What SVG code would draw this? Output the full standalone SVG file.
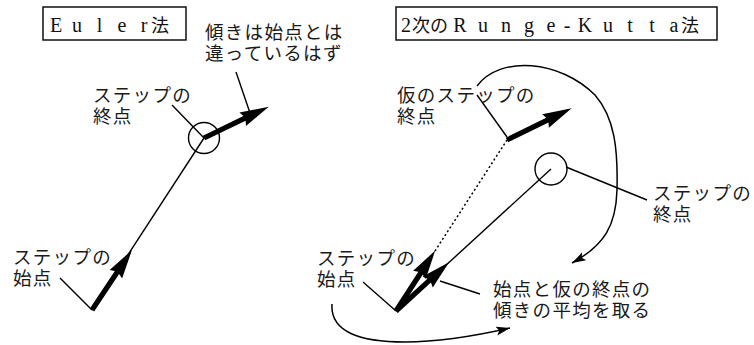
<svg xmlns="http://www.w3.org/2000/svg" width="754" height="345" viewBox="0 0 754 345">
<style>
  .lbl { font-family: "Liberation Sans", "Noto Sans CJK JP", sans-serif; font-size: 18.5px; letter-spacing: 1.3px; fill: #1a1a1a; }
  .ttl { font-family: "Liberation Serif", "Noto Sans CJK JP", serif; font-size: 20px; fill: #111; text-anchor: middle; }
  .ttl .cj { font-family: "Noto Sans CJK JP", sans-serif; font-size: 18px; }
  .box { fill: none; stroke: #111; stroke-width: 1.5; }
  .ln { fill: none; stroke: #000; stroke-width: 1.4; }
  .dot { fill: none; stroke: #000; stroke-width: 1.5; stroke-dasharray: 2 2.5; }
  .crv { fill: none; stroke: #000; stroke-width: 1.5; marker-end: url(#ah); }
  .ring { fill: none; stroke: #000; stroke-width: 1.4; }
  .fat { fill: #000; }
</style>
<defs>
  <marker id="ah" markerUnits="userSpaceOnUse" markerWidth="16" markerHeight="12" refX="14" refY="4.5" orient="auto">
    <path d="M0,0 L14,4.5 L0,9 L3,4.5 Z" fill="#000"/>
  </marker>
  <path id="fatArrow" d="M0,-2.6 L45,-2.6 L43,-7.5 L72,0 L43,7.5 L45,2.6 L0,2.6 Z"/>
</defs>

<g id="connectors">
  <!-- Euler -->
  <path class="ln" d="M92,310 L204,138"/>
  <path class="ln" d="M172,105 L204,138"/>
  <path class="ln" d="M236,72 L250,113"/>
  <path class="ln" d="M60,278 L92,310"/>
  <use class="fat" href="#fatArrow" transform="translate(92,310) rotate(-56.3)"/>
  <use class="fat" href="#fatArrow" transform="translate(204,138) rotate(-25.8)"/>
  <!-- Runge-Kutta -->
  <path class="dot" d="M435,251 L507,140"/>
  <path class="ln" d="M396,311 L551,169"/>
  <path class="ln" d="M477,95 L507,137"/>
  <path class="ln" d="M566,167 L647,200"/>
  <path class="ln" d="M363,282 L396,311"/>
  <path class="ln" d="M480,294 L440,281"/>
  <use class="fat" href="#fatArrow" transform="translate(507,140) rotate(-26.2)"/>
  <use class="fat" href="#fatArrow" transform="translate(396,311) rotate(-57)"/>
  <use class="fat" href="#fatArrow" transform="translate(396,311) rotate(-42.5)"/>
  <path class="crv" d="M477,86 C500,55 560,60 595,95 C615,118 618,150 617,190 C616,225 605,245 572,263"/>
  <path class="crv" d="M332,304 C330,332 360,342 405,342 C440,342 475,336 510,328"/>
</g>

<g id="euler-title">
  <rect class="box" x="43" y="7" width="143" height="33"/>
  <text class="ttl" y="32" x="56 77 99.5 122 144 160">Euler<tspan class="cj">法</tspan></text>
</g>
<g id="rk-title">
  <rect class="box" x="396" y="7" width="321" height="33"/>
  <text class="ttl" y="32" x="406 421 439 460 483 506 529 551 567 585 608 630 652 674 690">2<tspan class="cj">次の</tspan>Runge-Kutta<tspan class="cj">法</tspan></text>
</g>

<g id="euler-end-circle"><circle class="ring" cx="204" cy="138" r="15.5"/></g>
<g id="rk-end-circle"><circle class="ring" cx="551" cy="169" r="16"/></g>

<g id="euler-slope-note">
  <text class="lbl" x="205" y="39">傾きは始点とは<tspan x="205" dy="21">違っているはず</tspan></text>
</g>
<g id="euler-end-label">
  <text class="lbl" x="93" y="102">ステップの<tspan x="93" dy="21">終点</tspan></text>
</g>
<g id="euler-start-label">
  <text class="lbl" x="13" y="264">ステップの<tspan x="13" dy="21">始点</tspan></text>
</g>
<g id="rk-temp-end-label">
  <text class="lbl" x="397" y="102">仮のステップの<tspan x="397" dy="21">終点</tspan></text>
</g>
<g id="rk-end-label">
  <text class="lbl" x="653" y="200">ステップの<tspan x="653" dy="21">終点</tspan></text>
</g>
<g id="rk-start-label">
  <text class="lbl" x="317" y="265">ステップの<tspan x="317" dy="21">始点</tspan></text>
</g>
<g id="rk-average-label">
  <text class="lbl" x="493" y="296">始点と仮の終点の<tspan x="493" dy="21">傾きの平均を取る</tspan></text>
</g>
</svg>
